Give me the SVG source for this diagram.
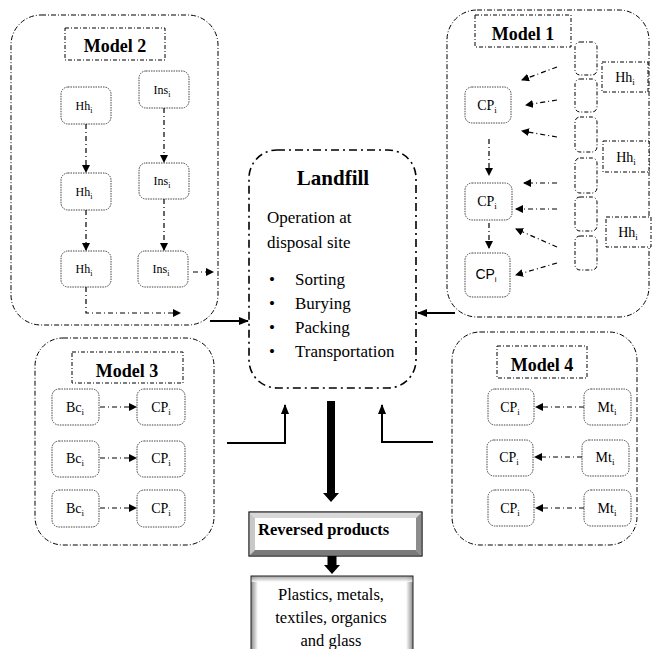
<svg xmlns="http://www.w3.org/2000/svg" width="652" height="649" viewBox="0 0 652 649">
  <defs>
    <marker id="tip" viewBox="0 0 8 8" refX="7" refY="4" markerWidth="8" markerHeight="8" markerUnits="userSpaceOnUse" orient="auto">
      <path d="M0,0 L8,4 L0,8 Z" fill="#000"/>
    </marker>
    <marker id="tipBold" viewBox="0 0 10 8" refX="9" refY="4" markerWidth="10" markerHeight="8" markerUnits="userSpaceOnUse" orient="auto">
      <path d="M0,0 L10,4 L0,8 Z" fill="#000"/>
    </marker>
    <linearGradient id="shadeL" x1="0" y1="0" x2="1" y2="0">
      <stop offset="0" stop-color="#8a8a8a"/>
      <stop offset="1" stop-color="#fff"/>
    </linearGradient>
    <linearGradient id="shadeR" x1="1" y1="0" x2="0" y2="0">
      <stop offset="0" stop-color="#8a8a8a"/>
      <stop offset="1" stop-color="#fff"/>
    </linearGradient>
    <linearGradient id="shadeT" x1="0" y1="0" x2="0" y2="1">
      <stop offset="0" stop-color="#8a8a8a"/>
      <stop offset="1" stop-color="#fff"/>
    </linearGradient>
  </defs>
  <style>
    text { font-family: "Liberation Serif", "Times New Roman", serif; fill: #000; }
    .group { fill: none; stroke: #000; stroke-width: 1; stroke-dasharray: 5 2 1 2; }
    .title { fill: none; stroke: #000; stroke-width: 1; stroke-dasharray: 4 2 1 2; }
    .node { fill: #fff; stroke: #444; stroke-width: 1; stroke-dasharray: 1.5 1; }
    .slot { fill: #fff; stroke: #000; stroke-width: 1; stroke-dasharray: 4 2 1 2; }
    .flow { fill: none; stroke: #000; stroke-width: 1.2; stroke-dasharray: 5 3 1 3; marker-end: url(#tip); }
    .feed { fill: none; stroke: #000; stroke-width: 2; marker-end: url(#tipBold); }
    .lf { fill: none; stroke: #000; stroke-width: 1.6; stroke-dasharray: 8 4 2 4; }
    .h { font-weight: bold; font-size: 18px; text-anchor: middle; }
    .m2 { font-size: 12px; text-anchor: middle; }
    .lb { font-size: 14px; text-anchor: middle; }
    .body { font-size: 17px; }
    .sans { font-family: "Liberation Sans", Arial, sans-serif; }
  </style>

  <!-- Model 2: households and institutions -->
  <g id="model2">
    <rect class="group" x="11" y="15" width="207" height="310" rx="30"/>
    <rect class="title" x="65" y="28" width="100" height="32"/>
    <text class="h" x="115" y="52">Model 2</text>
    <rect class="node" x="61" y="87" width="50" height="37" rx="7"/>
    <text class="m2" x="84" y="110">Hh<tspan font-size="8" dy="3">i</tspan></text>
    <rect class="node" x="61" y="173" width="50" height="37" rx="7"/>
    <text class="m2" x="84" y="196">Hh<tspan font-size="8" dy="3">i</tspan></text>
    <rect class="node" x="61" y="251" width="50" height="36" rx="7"/>
    <text class="m2" x="84" y="273">Hh<tspan font-size="8" dy="3">i</tspan></text>
    <rect class="node" x="139" y="71" width="50" height="37" rx="7"/>
    <text class="m2" x="162" y="94">Ins<tspan font-size="8" dy="3">i</tspan></text>
    <rect class="node" x="139" y="163" width="50" height="36" rx="7"/>
    <text class="m2" x="162" y="185">Ins<tspan font-size="8" dy="3">i</tspan></text>
    <rect class="node" x="138" y="251" width="50" height="36" rx="7"/>
    <text class="m2" x="161" y="273">Ins<tspan font-size="8" dy="3">i</tspan></text>
  </g>

  <!-- Model 1: collection points fed by households -->
  <g id="model1">
    <rect class="group" x="447" y="10" width="202" height="307" rx="30"/>
    <rect class="title" x="475" y="15" width="96" height="32"/>
    <text class="h" x="523" y="40">Model 1</text>
    <rect class="slot" x="575" y="42" width="22" height="33" rx="5"/>
    <rect class="slot" x="575" y="79" width="22" height="33" rx="5"/>
    <rect class="slot" x="575" y="117" width="22" height="35" rx="5"/>
    <rect class="slot" x="575" y="158" width="22" height="35" rx="5"/>
    <rect class="slot" x="575" y="197" width="22" height="34" rx="5"/>
    <rect class="slot" x="575" y="236" width="22" height="34" rx="5"/>
    <rect class="slot" x="602" y="62" width="46" height="30"/>
    <text class="lb" x="625" y="82">Hh<tspan font-size="9" dy="3">i</tspan></text>
    <rect class="slot" x="603" y="141" width="46" height="31"/>
    <text class="lb" x="626" y="162">Hh<tspan font-size="9" dy="3">i</tspan></text>
    <rect class="slot" x="606" y="217" width="45" height="30"/>
    <text class="lb" x="628" y="237">Hh<tspan font-size="9" dy="3">i</tspan></text>
    <rect class="node" x="465" y="87" width="46" height="36" rx="7"/>
    <text class="lb" x="487" y="110">CP<tspan font-size="9" dy="3">i</tspan></text>
    <rect class="node" x="465" y="183" width="47" height="37" rx="7"/>
    <text class="lb" x="487" y="206">CP<tspan font-size="9" dy="3">i</tspan></text>
    <rect class="node" x="465" y="253" width="45" height="44" rx="7"/>
    <text class="lb sans" x="486" y="279" font-size="12">CP<tspan font-size="8" dy="3">i</tspan></text>
  </g>

  <!-- Landfill: central disposal site -->
  <g id="landfill">
    <rect class="lf" x="249" y="150" width="167" height="238" rx="28"/>
    <text x="333" y="185" font-size="21" font-weight="bold" text-anchor="middle">Landfill</text>
    <text class="body" x="267" y="223">Operation at</text>
    <text class="body" x="267" y="248">disposal site</text>
    <g class="body">
      <text x="269" y="285">•</text><text x="295" y="285">Sorting</text>
      <text x="269" y="309">•</text><text x="295" y="309">Burying</text>
      <text x="269" y="333">•</text><text x="295" y="333">Packing</text>
      <text x="269" y="357">•</text><text x="295" y="357">Transportation</text>
    </g>
  </g>

  <!-- Model 3: buy-back centres -->
  <g id="model3">
    <rect class="group" x="35" y="338" width="179" height="207" rx="28"/>
    <rect class="title" x="72" y="352" width="111" height="31"/>
    <text class="h" x="127" y="377">Model 3</text>
    <rect class="node" x="52" y="389" width="47" height="36" rx="7"/>
    <text class="lb" x="75" y="412">Bc<tspan font-size="9" dy="3">i</tspan></text>
    <rect class="node" x="52" y="441" width="47" height="36" rx="7"/>
    <text class="lb" x="75" y="463">Bc<tspan font-size="9" dy="3">i</tspan></text>
    <rect class="node" x="52" y="490" width="47" height="37" rx="7"/>
    <text class="lb" x="75" y="513">Bc<tspan font-size="9" dy="3">i</tspan></text>
    <rect class="node" x="137" y="389" width="48" height="36" rx="7"/>
    <text class="lb" x="161" y="412">CP<tspan font-size="9" dy="3">i</tspan></text>
    <rect class="node" x="137" y="441" width="48" height="36" rx="7"/>
    <text class="lb" x="161" y="463">CP<tspan font-size="9" dy="3">i</tspan></text>
    <rect class="node" x="137" y="490" width="48" height="37" rx="7"/>
    <text class="lb" x="161" y="513">CP<tspan font-size="9" dy="3">i</tspan></text>
  </g>

  <!-- Model 4: material traders -->
  <g id="model4">
    <rect class="group" x="452" y="332" width="185" height="213" rx="28"/>
    <rect class="title" x="497" y="346" width="90" height="32"/>
    <text class="h" x="542" y="371">Model 4</text>
    <rect class="node" x="488" y="389" width="46" height="36" rx="7"/>
    <text class="lb" x="510" y="412">CP<tspan font-size="9" dy="3">i</tspan></text>
    <rect class="node" x="487" y="440" width="46" height="36" rx="7"/>
    <text class="lb" x="509" y="462">CP<tspan font-size="9" dy="3">i</tspan></text>
    <rect class="node" x="488" y="490" width="46" height="36" rx="7"/>
    <text class="lb" x="510" y="513">CP<tspan font-size="9" dy="3">i</tspan></text>
    <rect class="node" x="584" y="389" width="47" height="36" rx="7"/>
    <text class="lb" x="607" y="412">Mt<tspan font-size="9" dy="3">i</tspan></text>
    <rect class="node" x="582" y="440" width="47" height="36" rx="7"/>
    <text class="lb" x="605" y="462">Mt<tspan font-size="9" dy="3">i</tspan></text>
    <rect class="node" x="584" y="490" width="47" height="36" rx="7"/>
    <text class="lb" x="607" y="513">Mt<tspan font-size="9" dy="3">i</tspan></text>
  </g>

  <!-- Reversed products: bevelled button -->
  <g id="reversed">
    <rect x="249" y="512" width="173" height="44" fill="#fff" stroke="#333" stroke-width="1"/>
    <polygon points="249.5,512.5 421.5,512.5 416,518 255,518" fill="#d8d8d8"/>
    <polygon points="249.5,512.5 255,518 255,550 249.5,555.5" fill="#c8c8c8"/>
    <polygon points="421.5,512.5 421.5,555.5 416,550 416,518" fill="#8c8c8c"/>
    <polygon points="249.5,555.5 255,550 416,550 421.5,555.5" fill="#7a7a7a"/>
    <rect x="249" y="512" width="173" height="44" fill="none" stroke="#333" stroke-width="1"/>
    <text x="258" y="535" font-size="16.5" font-weight="bold">Reversed products</text>
  </g>

  <!-- Recovered materials: box with soft inner shadow -->
  <g id="materials">
    <rect x="251" y="576" width="162" height="90" fill="#fff"/>
    <rect x="251" y="576" width="7" height="90" fill="url(#shadeL)"/>
    <rect x="406" y="576" width="7" height="90" fill="url(#shadeR)"/>
    <rect x="251" y="576" width="162" height="6" fill="url(#shadeT)" opacity="0.8"/>
    <rect x="251" y="576" width="162" height="90" fill="none" stroke="#222" stroke-width="1"/>
    <text x="331" y="600" font-size="16.5" text-anchor="middle">Plastics, metals,</text>
    <text x="331" y="623" font-size="16.5" text-anchor="middle">textiles, organics</text>
    <text x="331" y="646" font-size="16.5" text-anchor="middle">and glass</text>
  </g>

  <!-- Connectors -->
  <g id="connectors">
    <!-- Model 2 chains -->
    <line class="flow" x1="86" y1="124" x2="86" y2="172"/>
    <line class="flow" x1="86" y1="210" x2="86" y2="250"/>
    <line class="flow" x1="164" y1="108" x2="164" y2="162"/>
    <line class="flow" x1="164" y1="199" x2="164" y2="250"/>
    <line class="flow" x1="193" y1="272" x2="213" y2="272"/>
    <path class="flow" d="M86,287 V313 H180"/>
    <!-- Model 1 feeds into collection points -->
    <line class="flow" x1="557" y1="67" x2="522" y2="80"/>
    <line class="flow" x1="557" y1="100" x2="526" y2="105"/>
    <line class="flow" x1="557" y1="137" x2="522" y2="131"/>
    <line class="flow" x1="557" y1="183" x2="524" y2="183"/>
    <line class="flow" x1="557" y1="209" x2="516" y2="209"/>
    <line class="flow" x1="557" y1="247" x2="516" y2="229"/>
    <line class="flow" x1="557" y1="263" x2="516" y2="275"/>
    <line class="flow" x1="489" y1="139" x2="489" y2="175"/>
    <line class="flow" x1="489" y1="223" x2="489" y2="248"/>
    <!-- Model 3 links -->
    <line class="flow" x1="100" y1="407" x2="136" y2="407"/>
    <line class="flow" x1="100" y1="458" x2="136" y2="458"/>
    <line class="flow" x1="100" y1="508" x2="136" y2="508"/>
    <!-- Model 4 links -->
    <line class="flow" x1="584" y1="407" x2="536" y2="407"/>
    <line class="flow" x1="582" y1="457" x2="535" y2="457"/>
    <line class="flow" x1="584" y1="508" x2="536" y2="508"/>
    <!-- Models into landfill -->
    <line class="feed" x1="210" y1="321" x2="248" y2="321"/>
    <line class="feed" x1="455" y1="313" x2="418" y2="313"/>
    <path class="feed" d="M227,443 H285 V405"/>
    <path class="feed" d="M433,442 H382 V405"/>
    <!-- Landfill output -->
    <polygon points="327,401 335,401 335,493 339,493 331,502 323,493 327,493" fill="#000"/>
    <polygon points="327.5,556 336.5,556 336.5,565 340,565 332,574 324,565 327.5,565" fill="#000"/>
  </g>
</svg>
